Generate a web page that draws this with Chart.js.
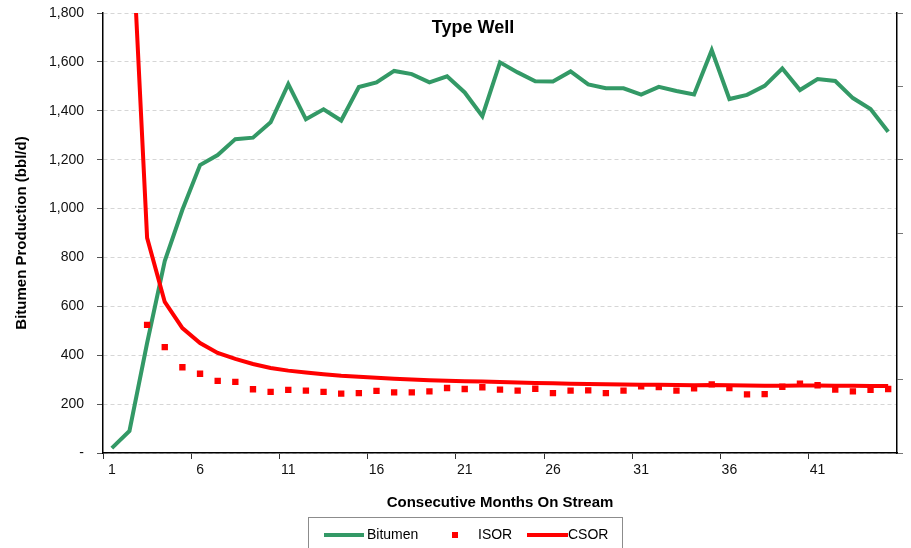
<!DOCTYPE html>
<html>
<head>
<meta charset="utf-8">
<script src="https://cdn.jsdelivr.net/npm/chart.js@4/dist/chart.umd.min.js"></script>
<style>
    html, body { margin: 0; padding: 0; background: #fff; overflow: hidden; }
    #wrap { position: relative; width: 911px; height: 548px; }
    #legendBox {
        position: absolute; left: 308px; top: 517px; width: 313px; height: 40px;
        border: 1px solid #8c8c8c; font: 14px "Liberation Sans", Arial, sans-serif; color: #000;
    }
    #legendBox span { position: absolute; top: 8px; }
    #legendBox i { position: absolute; display: block; }
</style>
</head>
<body>
<div id="wrap">
    <canvas id="chart" width="911" height="548"></canvas>
    <div id="legendBox">
        <i style="left:15px; top:15px; width:40px; height:4px; background:#339966;"></i>
        <span style="left:58px;">Bitumen</span>
        <i style="left:143px; top:14px; width:6px; height:6px; background:#ff0000;"></i>
        <span style="left:169px;">ISOR</span>
        <i style="left:218px; top:15px; width:41px; height:4px; background:#ff0000;"></i>
        <span style="left:259px;">CSOR</span>
    </div>
</div>
<script>
// months on stream
const months = [];
for (let m = 1; m <= 45; m++) months.push(String(m));

// bitumen production, bbl/d (left axis)
const bitumen = [
    20, 90, 450, 785, 995, 1178, 1219, 1284, 1290, 1353,
    1509, 1365, 1406, 1360, 1497, 1516, 1563, 1550, 1516, 1541,
    1475, 1378, 1598, 1557, 1521, 1520, 1561, 1508, 1492, 1492,
    1466, 1498, 1481, 1467, 1648, 1448, 1465, 1502, 1573, 1485,
    1530, 1522, 1452, 1407, 1314
];

// steam-oil ratios (right axis, unlabelled)
const isor = [
    null, null, 5.24, 4.33, 3.51, 3.24, 2.95, 2.91, 2.61, 2.50,
    2.58, 2.55, 2.50, 2.43, 2.45, 2.54, 2.48, 2.48, 2.52, 2.66,
    2.62, 2.69, 2.59, 2.55, 2.63, 2.45, 2.55, 2.56, 2.45, 2.55,
    2.73, 2.70, 2.55, 2.65, 2.81, 2.66, 2.40, 2.41, 2.71, 2.84,
    2.77, 2.59, 2.52, 2.58, 2.62
];
const csor = [
    null, 23.5, 8.80, 6.18, 5.11, 4.50, 4.09, 3.85, 3.64, 3.48,
    3.37, 3.29, 3.22, 3.16, 3.12, 3.08, 3.04, 3.01, 2.98, 2.96,
    2.94, 2.92, 2.90, 2.88, 2.86, 2.85, 2.83, 2.82, 2.81, 2.80,
    2.79, 2.79, 2.78, 2.77, 2.78, 2.77, 2.76, 2.75, 2.75, 2.76,
    2.76, 2.75, 2.75, 2.74, 2.74
];

const leftTicks = { min: 0, max: 1800, step: 200 };
const rightTicks = { min: 0, max: 18, step: 3 };

const FONT = '"Liberation Sans", Arial, sans-serif';

// "Type Well" sits inside the plot area
const titlePlugin = {
    id: "insideTitle",
    afterDraw(chart) {
        const { ctx, chartArea } = chart;
        ctx.save();
        ctx.font = "bold 18px " + FONT;
        ctx.fillStyle = "#000";
        ctx.textAlign = "center";
        ctx.textBaseline = "middle";
        ctx.fillText("Type Well", chartArea.left + 370, chartArea.top + 15);
        ctx.restore();
    }
};

const ctx = document.getElementById("chart").getContext("2d");
new Chart(ctx, {
    type: "line",
    data: {
        labels: months,
        datasets: [
            {
                label: "Bitumen",
                data: bitumen,
                yAxisID: "y",
                borderColor: "#339966",
                backgroundColor: "#339966",
                borderWidth: 4,
                pointRadius: 0,
                tension: 0,
                order: 3
            },
            {
                label: "ISOR",
                data: isor,
                yAxisID: "y1",
                showLine: false,
                pointStyle: "rect",
                pointRadius: 4.5,
                pointBorderWidth: 0,
                pointBackgroundColor: "#ff0000",
                borderColor: "#ff0000",
                order: 2
            },
            {
                label: "CSOR",
                data: csor,
                yAxisID: "y1",
                borderColor: "#ff0000",
                backgroundColor: "#ff0000",
                borderWidth: 4,
                pointRadius: 0,
                tension: 0,
                spanGaps: false,
                clip: 0,
                order: 1
            }
        ]
    },
    options: {
        responsive: false,
        animation: false,
        layout: { padding: { left: 0, right: 0, top: 13, bottom: 33 } },
        plugins: {
            legend: { display: false },
            tooltip: { enabled: false }
        },
        scales: {
            x: {
                type: "category",
                offset: true,
                grid: {
                    offset: true,
                    drawOnChartArea: false,
                    tickLength: 6,
                    tickColor: (c) => (c.index !== undefined && c.index % 5 === 0 ? "#333" : "rgba(0,0,0,0)")
                },
                border: { color: "#000", width: 1.5 },
                ticks: {
                    autoSkip: false,
                    maxRotation: 0,
                    padding: 3,
                    color: "#111",
                    font: { family: FONT, size: 14 },
                    callback: function (value, index) {
                        return index % 5 === 0 ? this.getLabelForValue(value) : "";
                    }
                },
                title: {
                    display: true,
                    text: "Consecutive Months On Stream",
                    color: "#000",
                    font: { family: FONT, size: 15, weight: "bold" },
                    padding: { top: 0, bottom: 3 }
                },
                afterFit: (scale) => { scale.height = 62; }
            },
            y: {
                position: "left",
                min: leftTicks.min,
                max: leftTicks.max,
                grid: {
                    color: "#d6d6d6",
                    lineWidth: 1,
                    tickColor: "#555",
                    tickLength: 6,
                    tickBorderDash: []
                },
                border: { color: "#000", width: 1.5, dash: [4, 3] },
                ticks: {
                    stepSize: leftTicks.step,
                    padding: 13,
                    color: "#111",
                    font: { family: FONT, size: 14 },
                    callback: (v) => (v === 0 ? "-" : v.toLocaleString("en-US"))
                },
                title: {
                    display: true,
                    text: "Bitumen Production (bbl/d)",
                    color: "#000",
                    font: { family: FONT, size: 15, weight: "bold" },
                    padding: { top: 13, bottom: 0 }
                },
                afterFit: (scale) => {
                    scale.width = 103;
                    scale.paddingTop = 8;
                    scale.paddingBottom = 8;
                }
            },
            y1: {
                position: "right",
                min: rightTicks.min,
                max: rightTicks.max,
                grid: {
                    drawOnChartArea: false,
                    tickColor: "#777",
                    tickLength: 6
                },
                border: { color: "#000", width: 1.5 },
                ticks: {
                    stepSize: rightTicks.step,
                    callback: () => ""
                },
                afterFit: (scale) => {
                    scale.width = 14;
                    scale.paddingTop = 0;
                    scale.paddingBottom = 0;
                }
            }
        }
    },
    plugins: [titlePlugin]
});
</script>
</body>
</html>
